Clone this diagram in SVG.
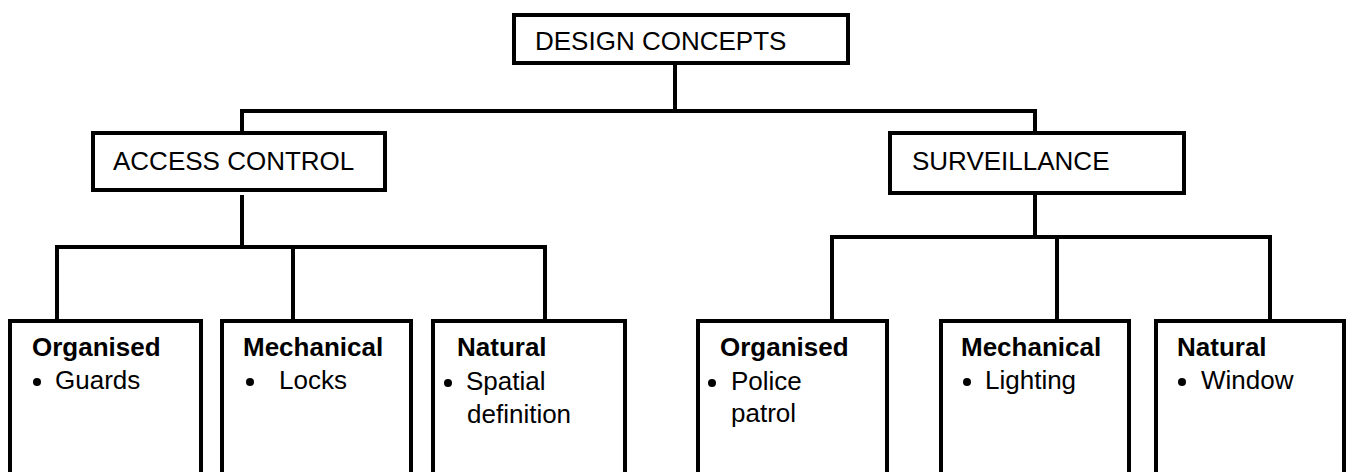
<svg xmlns="http://www.w3.org/2000/svg" width="1346" height="472" viewBox="0 0 1346 472">
<style>
.box{fill:#fff;stroke:#000;stroke-width:4}
.ln{fill:none;stroke:#000;stroke-width:4;stroke-linecap:square}
.dot{fill:#000}
text{font-family:"Liberation Sans",Arial,sans-serif;font-size:26px;fill:#000}
.b{font-weight:bold}
</style>
<rect width="1346" height="472" fill="#fff"/>
<g id="connectors">
<path class="ln" d="M675,65 V111 M242,111 H1035 M242,111 V131 M1035,111 V131"/>
<path class="ln" d="M242,197 V247 M57,247 H545 M57,247 V319 M293,247 V319 M545,247 V319"/>
<path class="ln" d="M1035,195 V237 M832,237 H1270 M832,237 V319 M1057,237 V319 M1270,237 V319"/>
</g>
<g id="design-concepts">
<rect class="box" x="514" y="15" width="334" height="48"/>
<text x="535" y="50">DESIGN CONCEPTS</text>
</g>
<g id="access-control">
<rect class="box" x="93" y="133" width="292" height="57"/>
<text x="113" y="170">ACCESS CONTROL</text>
</g>
<g id="surveillance">
<rect class="box" x="890" y="133" width="294" height="60"/>
<text x="912" y="170">SURVEILLANCE</text>
</g>
<g id="ac-organised">
<rect class="box" x="10" y="321" width="191" height="170"/>
<text class="b" x="32" y="356">Organised</text>
<circle class="dot" cx="37" cy="382" r="4"/>
<text x="55" y="389">Guards</text>
</g>
<g id="ac-mechanical">
<rect class="box" x="222" y="321" width="189" height="170"/>
<text class="b" x="243" y="356">Mechanical</text>
<circle class="dot" cx="250" cy="382" r="4"/>
<text x="279" y="389">Locks</text>
</g>
<g id="ac-natural">
<rect class="box" x="433" y="321" width="192" height="170"/>
<text class="b" x="457" y="356">Natural</text>
<circle class="dot" cx="448" cy="383" r="4"/>
<text x="466" y="390">Spatial</text>
<text x="467" y="423">definition</text>
</g>
<g id="sv-organised">
<rect class="box" x="698" y="321" width="189" height="170"/>
<text class="b" x="720" y="356">Organised</text>
<circle class="dot" cx="712" cy="383" r="4"/>
<text x="731" y="390">Police</text>
<text x="731" y="422">patrol</text>
</g>
<g id="sv-mechanical">
<rect class="box" x="941" y="321" width="188" height="170"/>
<text class="b" x="961" y="356">Mechanical</text>
<circle class="dot" cx="967" cy="382" r="4"/>
<text x="985" y="389">Lighting</text>
</g>
<g id="sv-natural">
<rect class="box" x="1156" y="321" width="188" height="170"/>
<text class="b" x="1177" y="356">Natural</text>
<circle class="dot" cx="1182" cy="382" r="4"/>
<text x="1201" y="389">Window</text>
</g>
</svg>
